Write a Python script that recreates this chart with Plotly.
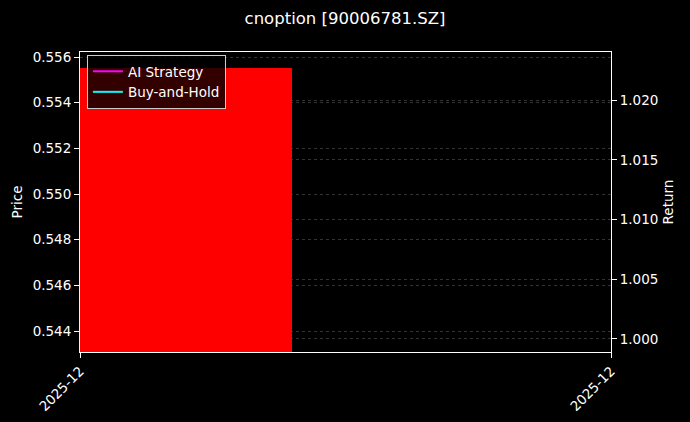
import plotly.graph_objects as go
import pandas as pd

# one daily candle, returns start at 1.0
dates = pd.to_datetime(["2025-12-15"])
opens = [0.5555]
closes = [0.5415]
ai_return = [1.0]
bh_return = [1.0]
x_range = ["2025-12-15", "2025-12-16"]
x_ticktext = ["2025-12", "2025-12"]

day_ms = 86400000
fg = "#ffffff"
grid = "rgba(128,128,128,0.4)"

fig = go.Figure()

# candle body drawn as a bar (down day -> red)
fig.add_trace(go.Bar(
    x=dates,
    y=[c - o for o, c in zip(opens, closes)],
    base=opens,
    width=0.8 * day_ms,
    marker=dict(color="#ff0000", line=dict(width=0)),
    showlegend=False,
    yaxis="y",
))

fig.add_trace(go.Scatter(x=dates, y=ai_return, mode="lines", name="AI Strategy",
                         line=dict(color="#ff00ff", width=2), yaxis="y2"))
fig.add_trace(go.Scatter(x=dates, y=bh_return, mode="lines", name="Buy-and-Hold",
                         line=dict(color="#00ffff", width=2), yaxis="y2"))

axis_font = dict(family="DejaVu Sans", size=13.5, color=fg)

fig.update_layout(
    width=690, height=422,
    paper_bgcolor="#000000", plot_bgcolor="#000000",
    margin=dict(l=80, r=79, t=52, b=70),
    font=dict(family="DejaVu Sans", size=13.5, color=fg),
    title=dict(text="cnoption [90006781.SZ]", x=0.5, xanchor="center",
               y=0.957, yanchor="middle", font=dict(size=16.5, color=fg)),
    bargap=0,
    xaxis=dict(
        type="date", range=x_range, automargin=False,
        tickvals=x_range, ticktext=x_ticktext, tickangle=-45,
        showgrid=False, zeroline=False,
        showline=True, linecolor=fg, linewidth=1, mirror=True,
        ticks="outside", ticklen=5, tickcolor=fg, tickfont=axis_font,
    ),
    yaxis=dict(
        title=dict(text="Price", font=dict(size=13.5, color=fg), standoff=6),
        range=[0.54308, 0.55622], automargin=False,
        tickvals=[0.544, 0.546, 0.548, 0.550, 0.552, 0.554, 0.556],
        tickformat=".3f",
        showgrid=True, gridcolor=grid, griddash="dot", gridwidth=0.6,
        zeroline=False,
        showline=True, linecolor=fg, linewidth=1,
        ticks="outside", ticklen=5, tickcolor=fg, tickfont=axis_font,
    ),
    yaxis2=dict(
        title=dict(text="Return", font=dict(size=13.5, color=fg), standoff=6),
        overlaying="y", side="right", automargin=False,
        range=[0.99891, 1.02402],
        tickvals=[1.000, 1.005, 1.010, 1.015, 1.020],
        tickformat=".3f",
        showgrid=True, gridcolor=grid, griddash="dot", gridwidth=0.6,
        zeroline=False,
        showline=True, linecolor=fg, linewidth=1,
        ticks="outside", ticklen=5, tickcolor=fg, tickfont=axis_font,
    ),
    legend=dict(
        x=0.013, y=0.99, xanchor="left", yanchor="top",
        bgcolor="rgba(0,0,0,0.8)", bordercolor="#cccccc", borderwidth=1,
        font=dict(size=13.5, color=fg), tracegroupgap=0,
    ),
)

fig.write_html("out.html", config={"displayModeBar": False},
               post_script="document.body.style.margin='0';"
                           "document.body.style.background='#000';")
